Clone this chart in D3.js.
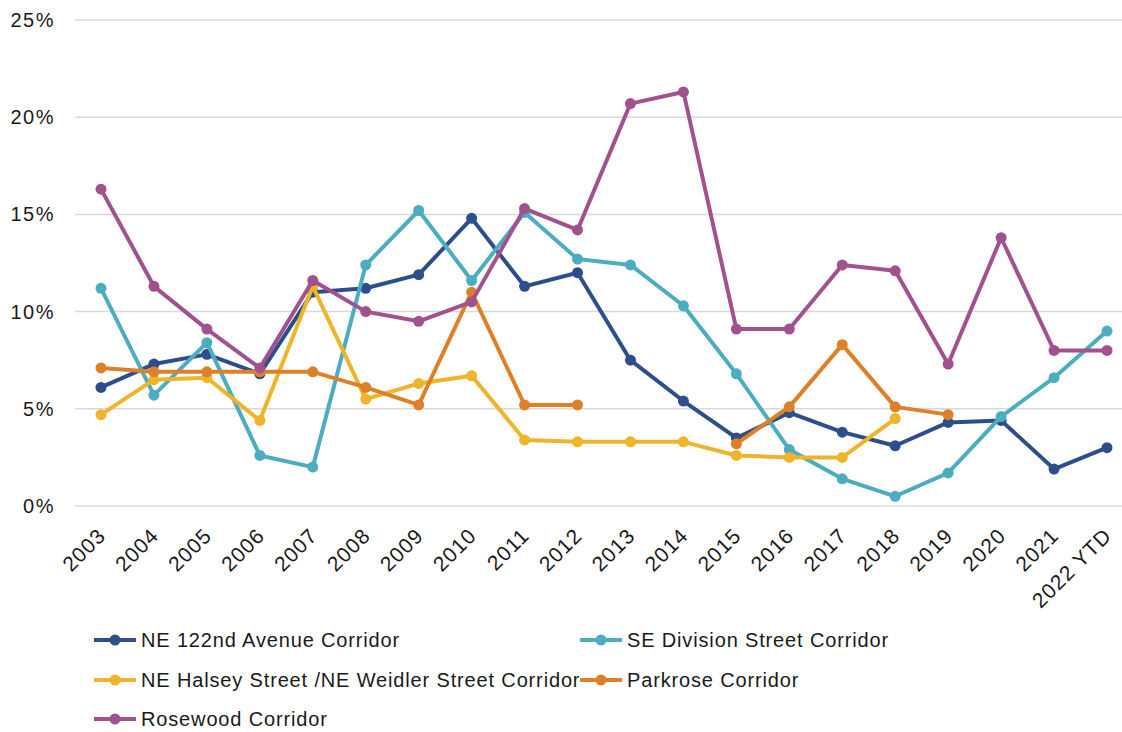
<!DOCTYPE html>
<html>
<head>
<meta charset="utf-8">
<script src="https://cdn.jsdelivr.net/npm/d3@7"></script>
<style>
  html, body { margin: 0; padding: 0; background: #fff; }
  svg text { font-family: "Liberation Sans", Arial, sans-serif; fill: #1a1a1a; }
</style>
</head>
<body>
<svg id="chart" width="1122" height="732"></svg>
<script>
const categories = ["2003","2004","2005","2006","2007","2008","2009","2010","2011","2012","2013","2014","2015","2016","2017","2018","2019","2020","2021","2022 YTD"];
const yTicks = [0, 5, 10, 15, 20, 25];

const seriesNames = ["NE 122nd Avenue Corridor", "SE Division Street Corridor", "NE Halsey Street /NE Weidler Street Corridor", "Parkrose Corridor", "Rosewood Corridor"];
const seriesColors = ["#2C4F8B", "#4CADC1", "#EDB42C", "#DC8127", "#A1528E"];

const ne122 = [6.1, 7.3, 7.8, 6.8, 11.0, 11.2, 11.9, 14.8, 11.3, 12.0, 7.5, 5.4, 3.5, 4.8, 3.8, 3.1, 4.3, 4.4, 1.9, 3.0];
const seDivision = [11.2, 5.7, 8.4, 2.6, 2.0, 12.4, 15.2, 11.6, 15.1, 12.7, 12.4, 10.3, 6.8, 2.9, 1.4, 0.5, 1.7, 4.6, 6.6, 9.0];
const halsey = [4.7, 6.5, 6.6, 4.4, 11.3, 5.5, 6.3, 6.7, 3.4, 3.3, 3.3, 3.3, 2.6, 2.5, 2.5, 4.5, null, null, null, null];
const parkrose = [7.1, 6.9, 6.9, 6.9, 6.9, 6.1, 5.2, 11.0, 5.2, 5.2, null, null, 3.2, 5.1, 8.3, 5.1, 4.7, null, null, null];
const rosewood = [16.3, 11.3, 9.1, 7.1, 11.6, 10.0, 9.5, 10.5, 15.3, 14.2, 20.7, 21.3, 9.1, 9.1, 12.4, 12.1, 7.3, 13.8, 8.0, 8.0];

const seriesValues = [ne122, seDivision, halsey, parkrose, rosewood];

const svg = d3.select("#chart");
const plotLeft = 75, plotRight = 1122;

const x = d3.scalePoint().domain(categories).range([101, 1107]);
const y = d3.scaleLinear().domain([0, 25]).range([506, 20]);

// gridlines
svg.append("g").selectAll("line").data(yTicks).join("line")
  .attr("x1", plotLeft).attr("x2", plotRight)
  .attr("y1", d => y(d)).attr("y2", d => y(d))
  .attr("stroke", "#D9D9D9").attr("stroke-width", 1.5);

// y axis labels
svg.append("g").selectAll("text").data(yTicks).join("text")
  .attr("x", 55).attr("y", d => y(d) + 7)
  .attr("text-anchor", "end")
  .style("font-size", "20px")
  .style("letter-spacing", "1.5px")
  .text(d => d + "%");

// x axis labels
svg.append("g").selectAll("text").data(categories).join("text")
  .attr("transform", d => `translate(${x(d) + 6},${537}) rotate(-45)`)
  .attr("text-anchor", "end")
  .style("font-size", "21px")
  .style("letter-spacing", "1px")
  .text(d => d);

// series
const line = d3.line()
  .defined(d => d.v !== null)
  .x(d => x(d.c))
  .y(d => y(d.v));

seriesValues.forEach((vals, i) => {
  const data = categories.map((c, j) => ({ c, v: vals[j] }));
  const g = svg.append("g");
  g.append("path").datum(data)
    .attr("d", line)
    .attr("fill", "none")
    .attr("stroke", seriesColors[i])
    .attr("stroke-width", 4)
    .attr("stroke-linejoin", "round");
  g.selectAll("circle").data(data.filter(d => d.v !== null)).join("circle")
    .attr("cx", d => x(d.c)).attr("cy", d => y(d.v))
    .attr("r", 5.5)
    .attr("fill", seriesColors[i]);
});

// legend
const legendPos = [[94, 640], [580, 640], [94, 680], [580, 680], [94, 719]];
seriesNames.forEach((name, i) => {
  const [lx, ly] = legendPos[i];
  const g = svg.append("g").attr("transform", `translate(${lx},${ly})`);
  g.append("line").attr("x1", 0).attr("x2", 42).attr("y1", 0).attr("y2", 0)
    .attr("stroke", seriesColors[i]).attr("stroke-width", 4);
  g.append("circle").attr("cx", 21).attr("cy", 0).attr("r", 5.5).attr("fill", seriesColors[i]);
  g.append("text").attr("x", 47).attr("y", 7)
    .style("font-size", "20px")
    .style("letter-spacing", "0.85px")
    .text(name);
});
</script>
</body>
</html>
